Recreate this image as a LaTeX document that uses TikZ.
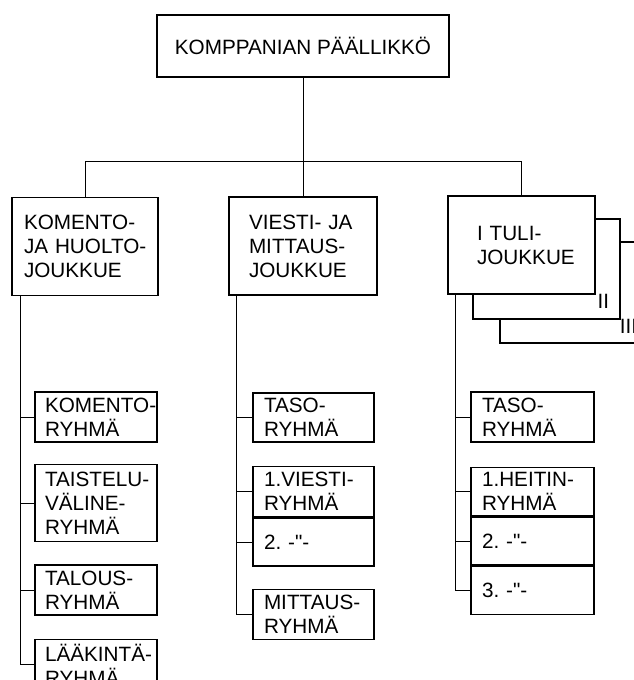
\documentclass[tikz,border=0pt]{standalone}
\usepackage{fontspec}
\setmainfont{Liberation Sans}
\usetikzlibrary{positioning}
\hyphenpenalty=10000
\exhyphenpenalty=10000
\hfuzz=20pt
\frenchspacing

\begin{document}
\begin{tikzpicture}[
    x=1pt, y=-1pt,
    node distance=22pt,
    every node/.style={font=\fontsize{20.7}{24}\selectfont},
    chief/.style={draw, line width=1.5pt, minimum width=292pt, minimum height=62pt, inner sep=0pt},
    platoon/.style={draw, line width=1.5pt, fill=white, align=left, minimum height=98pt, inner ysep=0pt},
    layer/.style={draw, line width=1.5pt, fill=white, minimum width=147pt, minimum height=100pt, inner sep=0pt},
    squad/.style={draw, line width=1.5pt, align=left, text width=102pt, inner xsep=10pt, inner ysep=0pt, minimum height=49pt},
    link/.style={line width=1pt}
]
\useasboundingbox (0,0) rectangle (634,680);
\clip (0,0) rectangle (634,680);

\node[chief] (chief) at (303,46) {KOMPPANIAN PÄÄLLIKKÖ};

\node[platoon, text width=122pt, inner xsep=12pt] (kjh) at (85,246.5) {KOMENTO-\\JA~HUOLTO-\\JOUKKUE};
\node[platoon, text width=108pt, inner xsep=20pt] (vmj) at (303,246) {VIESTI-~JA\\MITTAUS-\\JOUKKUE};
\node[layer, minimum height=101pt] (tul3) at (573.5,292.5) {};
\node[anchor=base east] (num3) at ([xshift=-7pt,yshift=10pt]tul3.south east) {III};
\node[layer] (tul2) at (546.5,269) {};
\node[anchor=base east] (num2) at ([xshift=-8pt,yshift=11pt]tul2.south east) {II};
\node[platoon, text width=89pt, inner xsep=29pt] (tul1) at (521.5,245) {I~TULI-\\JOUKKUE};

\coordinate (bar) at (0,161);
\draw[link] (chief.south) -- (chief.south |- bar);
\draw[link] (kjh.north) |- (tul1.north |- bar) -- (tul1.north);
\draw[link] (vmj.north) -- (vmj.north |- bar);

\node[squad, minimum height=50pt] (kr1) at (96,417) {KOMENTO-\\RYHMÄ};
\node[squad, minimum height=77pt, below=21pt of kr1] (kr2) {TAISTELU-\\VÄLINE-\\RYHMÄ};
\node[squad, minimum height=50pt, below=of kr2] (kr3) {TALOUS-\\RYHMÄ};
\node[squad, minimum height=50pt, below=23pt of kr3] (kr4) {LÄÄKINTÄ-\\RYHMÄ};

\node[squad, text width=99pt, inner xsep=11pt] (vr1) at (313.5,417.5) {TASO-\\RYHMÄ};
\node[squad, text width=99pt, inner xsep=11pt, minimum height=50pt, below=23pt of vr1] (vr2) {1.VIESTI-\\RYHMÄ};
\node[squad, text width=99pt, inner xsep=11pt, minimum height=48pt, below=0pt of vr2] (vr3) {2. -\textquotedbl-};
\node[squad, text width=99pt, inner xsep=11pt, minimum height=50pt, below=of vr3] (vr4) {MITTAUS-\\RYHMÄ};

\node[squad, text width=101pt, inner xsep=11pt, minimum height=50pt] (tr1) at (532.5,417) {TASO-\\RYHMÄ};
\node[squad, text width=101pt, inner xsep=11pt, minimum height=48pt, below=24pt of tr1] (tr2) {1.HEITIN-\\RYHMÄ};
\node[squad, text width=101pt, inner xsep=11pt, minimum height=48pt, below=0pt of tr2] (tr3) {2. -\textquotedbl-};
\node[squad, text width=101pt, inner xsep=11pt, minimum height=48pt, below=0pt of tr3] (tr4) {3. -\textquotedbl-};

\coordinate (ktrunk) at ([xshift=9pt]kjh.south west);
\coordinate (vtrunk) at ([xshift=8pt]vmj.south west);
\coordinate (ttrunk) at ([xshift=8pt]tul1.south west);
\draw[link] (ktrunk) |- (kr4.west);
\draw[link] (vtrunk) |- (vr4.west);
\draw[link] (ttrunk) |- (tr4.west);
\foreach \s in {kr1,kr2,kr3}
  \draw[link] (ktrunk |- \s.west) -- (\s.west);
\foreach \s in {vr1,vr2,vr3}
  \draw[link] (vtrunk |- \s.west) -- (\s.west);
\foreach \s in {tr1,tr2,tr3}
  \draw[link] (ttrunk |- \s.west) -- (\s.west);
\end{tikzpicture}
\end{document}
